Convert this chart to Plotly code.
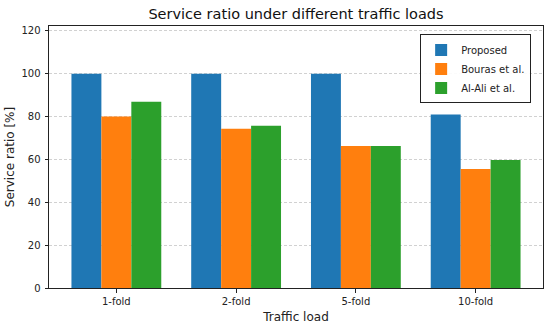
import plotly.graph_objects as go

categories = ["1-fold", "2-fold", "5-fold", "10-fold"]
proposed = [100, 100, 100, 81]
bouras = [80, 74.3, 66.3, 55.6]
alali = [86.9, 75.7, 66.3, 59.8]
series_names = ["Proposed", "Bouras et al.", "Al-Ali et al."]
colors = ["#1f77b4", "#ff7f0e", "#2ca02c"]
y_ticks = [0, 20, 40, 60, 80, 100, 120]

x = list(range(len(categories)))
width = 0.25
offsets = [-width, 0, width]

fig = go.Figure()
for name, vals, col, off in zip(series_names, [proposed, bouras, alali], colors, offsets):
    fig.add_trace(go.Bar(
        x=[xi + off for xi in x], y=vals, name=name, width=width,
        marker=dict(color=col, line=dict(width=0)),
    ))

font = "DejaVu Sans"
fig.update_layout(
    width=550, height=328,
    margin=dict(l=49, r=7, t=26, b=40),
    paper_bgcolor="white", plot_bgcolor="white",
    font=dict(family=font, size=10, color="#222"),
    title=dict(text="Service ratio under different traffic loads", xref="paper", x=0.5,
               xanchor="center", yref="container", y=1 - 14 / 328, yanchor="middle",
               font=dict(size=14.5, color="#111")),
    barmode="overlay",
    showlegend=True,
    legend=dict(x=0.976, y=0.968, xanchor="right", yanchor="top",
                bordercolor="#222", borderwidth=1, bgcolor="rgba(255,255,255,0.9)",
                font=dict(size=10), tracegroupgap=0, itemsizing="constant",
                itemwidth=30),
)
fig.update_xaxes(
    range=[-0.5625, 3.5625], tickmode="array", tickvals=x, ticktext=categories,
    showline=True, linecolor="#222", linewidth=1, mirror=True,
    ticks="outside", ticklen=3.5, tickcolor="#222",
    showgrid=False, zeroline=False, automargin=False,
    title=dict(text="Traffic load", font=dict(size=12), standoff=7),
)
fig.update_yaxes(
    range=[0, 122.3], tickmode="array", tickvals=y_ticks,
    showline=True, linecolor="#222", linewidth=1, mirror=True,
    ticks="outside", ticklen=3.5, tickcolor="#222", ticklabelstandoff=2,
    showgrid=True, gridcolor="rgba(190,190,190,0.7)", griddash="3px,2px", gridwidth=0.8,
    zeroline=False, automargin=False,
    title=dict(text="Service ratio [%]", font=dict(size=12), standoff=4),
)
fig.write_html("out.html", config={"displayModeBar": False},
               post_script="document.body.style.margin='0';")
